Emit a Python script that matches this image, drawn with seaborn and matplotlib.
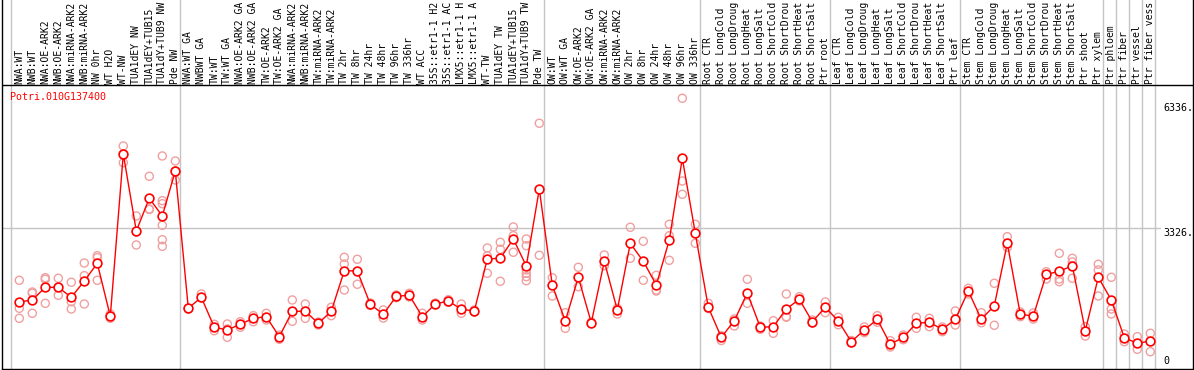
import numpy as np
import pandas as pd
import matplotlib
matplotlib.use("Agg")
import matplotlib.pyplot as plt
import seaborn as sns

gene = "Potri.010G137400"

# sample labels, as far as the reference shows them (long ones are cut short there)
labels = [
    # NW
    "NWA:WT", "NWB:WT", "NWA:OE-ARK2", "NWB:OE-ARK2", "NWA:miRNA-ARK2", "NWB:miRNA-ARK2",
    "NW 0hr", "WT H2O", "WT-NW", "TUA1dEY NW", "TUA1dEY+TUB15", "TUA1dY+TUB9 NW", "Pde NW",
    # TW
    "NWA:WT GA", "NWBWT GA", "TW:WT", "TW:WT GA", "NWA:OE-ARK2 GA", "NWB:OE-ARK2 GA",
    "TW:OE-ARK2", "TW:OE-ARK2 GA", "NWA:miRNA-ARK2", "NWB:miRNA-ARK2", "TW:miRNA-ARK2",
    "TW:miRNA-ARK2", "TW 2hr", "TW 8hr", "TW 24hr", "TW 48hr", "TW 96hr", "TW 336hr",
    "WT ACC", "35S::etr1-1 H2", "35S::etr1-1 AC", "LMX5::etr1-1 H", "LMX5::etr1-1 A",
    "WT-TW", "TUA1dEY TW", "TUA1dEY+TUB15", "TUA1dY+TUB9 TW", "Pde TW",
    # OW
    "OW:WT", "OW:WT GA", "OW:OE-ARK2", "OW:OE-ARK2 GA", "OW:miRNA-ARK2", "OW:miRNA-ARK2",
    "OW 2hr", "OW 8hr", "OW 24hr", "OW 48hr", "OW 96hr", "OW 336hr",
    # root
    "Root CTR", "Root LongCold", "Root LongDroug", "Root LongHeat", "Root LongSalt",
    "Root ShortCold", "Root ShortDrou", "Root ShortHeat", "Root ShortSalt", "Ptr root",
    # leaf
    "Leaf CTR", "Leaf LongCold", "Leaf LongDroug", "Leaf LongHeat", "Leaf LongSalt",
    "Leaf ShortCold", "Leaf ShortDrou", "Leaf ShortHeat", "Leaf ShortSalt", "Ptr leaf",
    # stem
    "Stem CTR", "Stem LongCold", "Stem LongDroug", "Stem LongHeat", "Stem LongSalt",
    "Stem ShortCold", "Stem ShortDrou", "Stem ShortHeat", "Stem ShortSalt", "Ptr shoot",
    "Ptr xylem",
    "Ptr phloem", "Ptr fiber", "Ptr vessel", "Ptr fiber vess",
]

# index of the first sample of each group (a separator is drawn before it)
group_starts = [0, 13, 41, 53, 63, 73, 84, 85, 86, 87, 88]

means = [
    1553, 1601, 1906, 1906, 1666, 2058, 2484, 1208, 5115, 3261, 4049, 3623, 4706,
    1401, 1666, 944, 879, 1016, 1160, 1199, 717, 1329, 1329, 1040, 1329, 2306, 2299,
    1497, 1256, 1690, 1714, 1199, 1504, 1577, 1377, 1336, 2588, 2604, 3069, 2419, 4272,
    1954, 1095, 2147, 1054, 2532, 1360, 2965, 2532, 1962, 3045, 5011, 3206,
    1425, 703, 1102, 1769, 944, 958, 1384, 1617, 1078, 1425,
    1095, 597, 879, 1136, 534, 703, 1040, 1064, 895, 1136,
    1817, 1136, 1463, 2965, 1256, 1216, 2219, 2291, 2426, 862, 2147,
    1601, 693, 558, 614,
]

replicates = [
    [2075, 1401, 1160], [1793, 1762, 1281], [2137, 2099, 1521], [2123, 1906, 1714],
    [2027, 1560, 1384], [2491, 2186, 1504], [2667, 2619, 2075], [1208, 1160, 1264],
    [5307, 4905, 5115], [3623, 2925, 3240], [4578, 3791, 3780],
    [5067, 3991, 3918, 3399, 3052, 2893], [4946, 4489, 4706],
    [1401, 1380], [1745, 1649], [1016, 862], [1023, 703, 903], [1078, 944],
    [1223, 1078], [1281, 1119], [758, 655], [1601, 1088], [1504, 1160], [1071, 999],
    [1425, 1223], [2628, 2467, 1841], [2580, 1979], [1528, 1468], [1360, 1167],
    [1721, 1656], [1762, 1673], [1281, 1119], [1528, 1480], [1608, 1545], [1504, 1281],
    [1360, 1312], [2852, 2660, 2243], [2990, 2821, 2051], [3358, 3148, 2749],
    [3069, 2908, 2323, 2243, 2162, 2065], [5854, 2677],
    [2137, 1697], [1295, 919], [2388, 1921], [1071, 1035], [2684, 2426], [1401, 1264],
    [3351, 2604], [3014, 2075], [2195, 1841, 1817], [3423, 3148, 2556],
    [6456, 4465, 4145], [3423, 2965],
    [1521, 1396], [626, 740], [975, 1143], [2099, 1521], [895, 975], [1102, 799],
    [1745, 1199, 1184], [1680, 1577], [1119, 1047], [1553, 1295],
    [1184, 1006], [626, 566], [951, 814], [1223, 1064], [621, 469], [758, 645],
    [1184, 919], [1160, 958], [951, 838], [1336, 999],
    [1882, 1745], [1295, 1054], [2003, 992], [3124, 2869], [1312, 1199], [1288, 1143],
    [2282, 2106], [2725, 2106, 2041], [2604, 2123, 2515], [958, 734], [2460, 2323, 1697],
    [2147, 1384, 1264], [782, 597], [717, 414], [799, 356],
]

tick_values = [6336, 3326, 0]
tick_labels = ["6336.", "3326.", "0"]

idx = np.arange(len(labels))
mean_df = pd.DataFrame({"idx": idx, "value": means})
rep_df = pd.DataFrame(
    [(i, v) for i, reps in enumerate(replicates) for v in reps],
    columns=["idx", "value"],
)

sns.set_theme(style="white")
plt.rcParams["font.family"] = ["DejaVu Sans Mono", "DejaVu Sans"]

W, H = 1194, 370
fig = plt.figure(figsize=(W / 100, H / 100), dpi=100)
ax = fig.add_axes([2 / W, 1 / H, 1191 / W, 369 / H])

# pixel geometry of the reference: x = 19.3 + 13*i, y = 366.5 - 0.04155*v
px_per_unit = 0.04155
ax.set_xlim((2 - 19.3) / 13.0, (1193 - 19.3) / 13.0)
ax.set_ylim(-2.5 / px_per_unit, 366.5 / px_per_unit)
header_value = (366.5 - 85) / px_per_unit

grid_c = "#c4c4c4"
for b in group_starts:
    ax.axvline(b - 0.65, color=grid_c, lw=1.0, zorder=0)
ax.axhline(tick_values[1], xmin=0, xmax=(1160 - 2) / 1191, color=grid_c, lw=1.0, zorder=0)
ax.axhline(header_value, color="black", lw=1.0, zorder=1)

sns.scatterplot(data=rep_df, x="idx", y="value", ax=ax, marker="o", s=34,
                facecolors="none", edgecolors="#f0a0a0", linewidths=1.0,
                legend=False, zorder=2)
sns.lineplot(data=mean_df, x="idx", y="value", ax=ax, color="red", lw=1.0,
             marker="o", markersize=6.3, markerfacecolor="white",
             markeredgecolor="red", markeredgewidth=1.2, zorder=3)

label_y = (369 - 83.5) / 369
for i, lab in enumerate(labels):
    ax.text(i, label_y, lab, transform=ax.get_xaxis_transform(), rotation=90,
            ha="center", va="bottom", fontsize=7.0, color="black")

ax.text(8 / 1191, (369 - 97) / 369, gene, transform=ax.transAxes, color="red",
        fontsize=7.2, ha="left", va="center")

for v, t in zip(tick_values, tick_labels):
    ax.text((1163 - 2) / 1191, v, t, transform=ax.get_yaxis_transform(),
            fontsize=7.2, ha="left", va="bottom" if v == 0 else "top", color="black")

ax.set_xticks([])
ax.set_yticks([])
ax.set_xlabel("")
ax.set_ylabel("")
for side in ["left", "bottom", "right"]:
    ax.spines[side].set_color("black")
    ax.spines[side].set_linewidth(1.0)
ax.spines["top"].set_visible(False)

fig.savefig("out.png", dpi=100)
